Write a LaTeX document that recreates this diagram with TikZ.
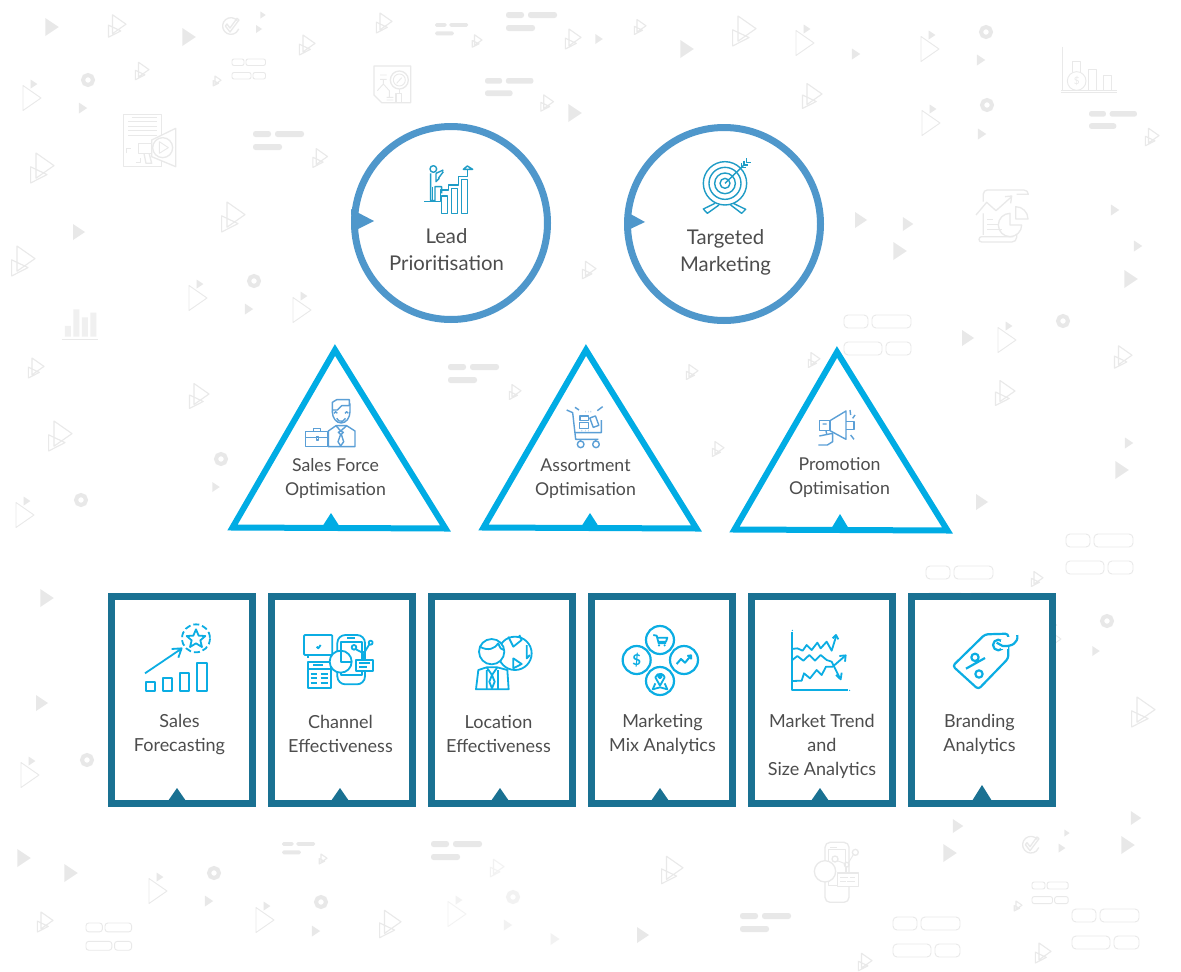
\documentclass[tikz,border=0pt]{standalone}
\usepackage{fontspec}
\setmainfont{Lato}
\definecolor{ringc}{HTML}{4F97CB}
\definecolor{tric}{HTML}{00ACE4}
\definecolor{boxc}{HTML}{1A7192}
\definecolor{txtc}{HTML}{4D4D4D}
\definecolor{bgf}{HTML}{E8E8E8}
\definecolor{bgl}{HTML}{E9E9E9}
\definecolor{bgp}{HTML}{F0F0F0}
\definecolor{ica}{HTML}{1F9CC6}
\definecolor{icb}{HTML}{5B9FD6}
\definecolor{icc}{HTML}{0BADE3}
\tikzset{
  ringshape/.style={circle,draw=ringc,line width=7pt,fill=white,minimum size=193pt,inner sep=0pt},
  tribody/.style={draw=tric,line width=6pt,fill=white,miter limit=10},
  boxshape/.style={rectangle,draw=boxc,line width=7pt,fill=white,minimum width=141pt,minimum height=207pt,inner sep=0pt},
  lbl/.style={text=txtc,align=center,font=\fontsize{18}{24}\selectfont,inner sep=0pt},
  lblbig/.style={text=txtc,align=center,font=\fontsize{20.3}{27}\selectfont,inner sep=0pt},
  lblnarrow/.style={text=txtc,align=center,font=\fontsize{17.7}{24}\selectfont,inner sep=0pt},
  bgline/.style={draw=bgl,line width=.9pt,line join=round},
  bgthick/.style={draw=bgl,line width=1.3pt,line join=round},
  icona/.style={draw=ica,line width=1.4pt,line join=round},
  iconb/.style={draw=icb,line width=1.4pt,line join=round},
  iconc/.style={draw=icc,line width=1.8pt,line join=round},
  iconcf/.style={draw=icc,line width=1.8pt,line join=round,fill=white},
  zA/.style={shift={(340,110)},scale=1/3},
  zT/.style={shift={(300,395)},scale=1/3},
  zC/.style={shift={(560,400)},scale=1/3},
  zM/.style={shift={(810,400)},scale=1/3},
  zL/.style={shift={(100,590)},scale=1/3},
  zR/.style={shift={(580,590)},scale=1/3},
}
\newcommand{\bgst}[3]{\fill[bgf] ({#1-.75*#3},{#2-#3}) -- ({#1+.75*#3},#2) -- ({#1-.75*#3},{#2+#3}) -- cycle;}
\newcommand{\bglogo}[3]{\begin{scope}[shift={(#1,#2)},scale=#3]
  \draw[bgl,line width=1.1pt,line join=round] (-.5,-1.25) -- (1,-.2) -- (-.5,.85) -- cycle (-.95,-.1) -- (.42,.55) -- (-.95,1.25) -- cycle;
  \end{scope}}
\newcommand{\bgot}[2]{\begin{scope}[shift={(#1,#2)}]
  \draw[bgline] (-9,-12.5) -- (9,0) -- (-9,12.5) -- cycle;
  \end{scope}\bgst{#1+2}{#2-14}{4.5}}
\newcommand{\bgring}[2]{\draw[bgf,line width=4pt] (#1,#2) circle (5);}
\newcommand{\bgbars}[3]{\begin{scope}[shift={(#1,#2)},scale=#3]
  \fill[bgf,rounded corners=#3*2.5pt] (0,0) rectangle (18,6) (22,0) rectangle (51,6) (0,13) rectangle (29,19);
  \end{scope}}
\newcommand{\bgpills}[3]{\begin{scope}[shift={(#1,#2)},scale=#3]
  \draw[bgl,line width=.9pt,rounded corners=#3*4pt] (0,0) rectangle (24,13) (28,0) rectangle (67,13) (0,27) rectangle (38,40) (42,27) rectangle (67,40);
  \end{scope}}
\begin{document}
\begin{tikzpicture}[x=1pt,y=-1pt]
\useasboundingbox (0,0) rectangle (1181,972);
\fill[white] (0,0) rectangle (1181,972);
% ---------- background motifs ----------
\bgst{52}{27}{9}\bgst{189}{37}{9}\bgst{263}{15}{3.5}\bgst{259}{29}{4}\bgst{83}{108}{5.5}\bgst{79}{232}{8}\bgst{249}{309}{5.5}
\bgst{599}{39}{5}\bgst{687}{49}{9}\bgst{575}{113}{9}\bgst{856}{54}{5.5}\bgst{981}{60}{5.5}\bgst{982}{134}{5.5}\bgst{861}{220}{8}\bgst{908}{224}{7}\bgst{900}{251}{9}\bgst{1115}{210}{5.5}\bgst{1138}{246}{5.5}\bgst{1131}{279}{9}\bgst{968}{338}{8}
\bgst{1129}{443}{5.5}\bgst{1122}{470}{9}\bgst{982}{502}{8}\bgst{216}{487}{5}\bgst{47}{598}{9}\bgst{42}{703}{8}
\bgst{958}{826}{7}\bgst{950}{853}{9}\bgst{1136}{818}{7}\bgst{1067}{833}{3.5}\bgst{1062}{848}{4.5}\bgst{1128}{845}{9}
\bgst{24}{858}{9}\bgst{71}{873}{9}\bgst{209}{901}{5.5}\bgst{316}{931}{5.5}\bgst{643}{935}{8}\bgst{1096}{651}{5}
\begin{scope}[opacity=.55]\bgst{508}{925}{5.5}\bgst{555}{939}{6}\bgot{457}{914}\bgring{513}{897}\bglogo{497}{868}{7}\end{scope}
\bgot{32}{98}\bgot{198}{298}\bgot{302}{310}\bgot{805}{43}\bgot{930}{49}\bgot{931}{123}\bgot{1007}{340}\bgot{25}{515}\bgot{30}{775}\bgot{158}{891}\bgot{265}{920}\bgot{1052}{639}
\bglogo{117}{26}{9}\bglogo{307}{45}{8}\bglogo{142}{71}{7}\bglogo{217}{81}{4}\bglogo{42}{168}{12}\bglogo{320}{158}{7.5}\bglogo{233}{217}{12}\bglogo{23}{261}{12}
\bglogo{384}{23}{8}\bglogo{477}{41}{5}\bglogo{573}{39}{8}\bglogo{640}{27}{6}\bglogo{744}{31}{12}\bglogo{547}{103}{6.5}\bglogo{812}{96}{10}\bglogo{1152}{137}{7}
\bglogo{589}{270}{7}\bglogo{515}{392}{6}\bglogo{692}{372}{6}\bglogo{718}{449}{6}\bglogo{814}{360}{6}\bglogo{36}{368}{8}\bglogo{199}{396}{10}\bglogo{60}{436}{12}\bglogo{1123}{357}{9}\bglogo{1005}{393}{10}\bglogo{1037}{579}{6}\bglogo{1143}{712}{12}
\bglogo{865}{962}{7}\bglogo{1018}{906}{4}\bglogo{1043}{953}{8}\bglogo{45}{922}{8}\bglogo{323}{859}{4}\bglogo{390}{924}{11}\bglogo{672}{870}{11}
\bgring{88}{80}\bgring{254}{281}\bgring{986}{32}\bgring{987}{105}\bgring{1063}{321}\bgring{221}{459}\bgring{81}{500}\bgring{1107}{621}\bgring{87}{760}\bgring{214}{873}\bgring{321}{902}
\bgbars{253}{131}{1}\bgbars{506}{12}{1}\bgbars{485}{78}{.95}\bgbars{1089}{111}{.94}\bgbars{448}{364}{1}\bgbars{431}{841}{1}\bgbars{740}{913}{1}\bgbars{282}{842}{.65}\bgbars{435}{23}{.65}
\bgpills{232}{59}{.5}\bgpills{844}{315}{1}\bgpills{893}{917}{1}\bgpills{1072}{909}{1}\bgpills{1032}{882}{.54}\bgpills{86}{923}{.68}\bgpills{1066}{534}{1}\bgpills{926}{566}{1}
% megaphone sheet
\begin{scope}[scale=1/3]
  \draw[bgthick] (455,343) -- (370,343) -- (370,500) -- (485,500) -- (485,343) -- (455,343);
  \draw[bgline] (395,352) -- (470,352) (385,365) -- (470,365) (385,378) -- (470,378) (385,392) -- (470,392) (385,405) -- (470,405);
  \draw[bgthick,fill=white] (455,420) -- (527,385) -- (527,500) -- (455,470) -- cycle;
  \draw[bgthick,fill=white] (488,443) circle (30);
  \draw[bgline] (478,425) -- (505,443) -- (478,460) -- cycle;
  \draw[bgthick,fill=white] (415,430) rectangle (455,460);
  \draw[bgthick] (432,460) -- (438,490) -- (455,490) -- (448,462);
  \draw[bgline] (380,460) -- (380,445) -- (392,445) (408,488) -- (422,488) -- (422,475);
  \fill[bgp] (195,978) rectangle (213,1010) (220,928) rectangle (238,1010) (246,952) rectangle (264,1010) (271,938) rectangle (289,1010);
  \draw[bgline] (185,1018) -- (295,1018);
  % check badge top left
  \draw[bgthick] (712,62) arc (-40:-340:25);
  \draw[bgthick] (676,78) -- (690,96) -- (717,60) -- (711,55) -- (690,84) -- (681,72) -- cycle;
\end{scope}
% map and magnifier
\begin{scope}[shift={(340,0)},scale=1/3]
  \draw[bgthick] (102,198) -- (212,198) -- (212,308) -- (125,308) -- (102,285) -- cycle;
  \draw[bgthick,fill=white] (178,240) circle (27);
  \draw[bgline] (178,240) circle (18);
  \draw[bgline] (170,250) -- (185,233) (120,225) -- (140,225) (120,238) -- (140,238) (130,238) -- (130,250) (112,272) -- (130,252) -- (148,272) -- (148,290) (140,292) -- (160,292) (140,300) -- (160,300);
  \draw[bgthick] (168,280) rectangle (185,307);
  \draw[bgline] (178,267) -- (178,280);
\end{scope}
% scroll and finance chart
\begin{scope}[shift={(840,0)},scale=1/3]
  \draw[bgthick] (430,605) -- (430,582) arc (180:270:12) -- (552,570) arc (270:360:13) -- (530,583);
  \draw[bgthick] (430,640) -- (430,705) (530,690) -- (530,712) arc (0:90:14) -- (425,726) arc (90:270:8) -- (520,710);
  \draw[bgthick] (408,645) -- (440,607) -- (468,632) -- (515,590) (495,590) -- (515,588) -- (512,610);
  \draw[bgthick] (527,620) arc (270:360:37) -- (527,657) -- cycle;
  \draw[bgthick,fill=white] (510,640) arc (270:0:35) -- (510,675) -- cycle;
  \draw[bgline] (442,658) -- (460,658) (442,672) -- (475,672) (442,688) -- (485,688);
  \draw[bgline] (668,140) -- (668,270) (662,278) -- (832,278) (664,270) -- (832,270);
  \draw[bgline] (697,215) -- (697,185) -- (722,185) -- (722,215) (745,270) -- (745,208) -- (770,208) -- (770,270) (790,270) -- (790,225) -- (815,225) -- (815,270);
  \draw[bgline,fill=white] (710,243) circle (28);
  \node[text=bgl,font=\fontsize{10}{10}\selectfont] (bgdollar) at (710,243) {\$};
\end{scope}
% small check badge bottom right
\begin{scope}[shift={(840,800)},scale=1/3]
  \draw[bgthick] (592,118) arc (-40:-340:25);
  \draw[bgthick] (556,134) -- (570,152) -- (597,116) -- (591,111) -- (570,140) -- (561,128) -- cycle;
\end{scope}
% phone motif bottom
\begin{scope}[shift={(825,843)},scale=1/3]
  \draw[bgthick,rounded corners=5pt] (0,-2) rectangle (72,178);
  \draw[bgline] (10,18) rectangle (62,128);
  \draw[bgline] (15,12) -- (35,12);
  \draw[bgthick,fill=white] (0,85) circle (32);
  \draw[bgthick,fill=white] (37,90) rectangle (100,130);
  \draw[bgline] (45,103) -- (70,103) (75,103) -- (90,103) (45,116) -- (62,116) (66,116) -- (90,116);
  \draw[bgthick] (30,48) circle (9) (65,65) circle (7) (91,28) circle (9);
  \draw[bgline] (37,53) -- (60,62) (70,60) -- (85,35) (64,72) -- (64,90);
\end{scope}
% ---------- circles ----------
\node[ringshape] (c1) at (451,223) {};
\node[ringshape] (c2) at (724,224) {};
\fill[ringc] (351,209) -- (374,221) -- (352,232) -- cycle;
\fill[ringc] (625,211) -- (645,222) -- (626,231) -- cycle;
\node[lblbig] (t1) at (446.5,249.5) {Lead\\Prioritisation};
\node[lblbig] (t2) at (725.5,252.5) {Targeted\\Marketing};
% lead icon
\begin{scope}[zA]
  \draw[icona] (305,258) rectangle (322,310) (335,235) rectangle (352,310) (365,208) rectangle (382,310);
  \draw[icona] (252,275) -- (302,275) -- (302,240) -- (325,240) -- (325,225) -- (355,225) -- (355,200) -- (382,200) -- (382,178);
  \draw[icona] (370,178) -- (382,168) -- (398,178) -- cycle;
  \draw[icona] (280,177) circle (10);
  \draw[icona] (272,190) -- (272,272) -- (285,272) -- (285,230) -- (305,230) -- (305,250) (288,190) -- (310,180) (295,205) -- (310,185) (288,190) -- (288,215) -- (298,205);
  \draw[icona] (278,230) -- (278,272);
\end{scope}
% target icon
\begin{scope}[zA]
  \draw[icona] (1155,220) circle (65) (1155,220) circle (48) (1155,220) circle (31) (1155,220) circle (15);
  \draw[icona] (1155,220) -- (1212,165);
  \draw[icona] (1205,160) -- (1205,172) -- (1218,172) (1212,152) -- (1212,165) -- (1225,165) (1220,145) -- (1220,157) -- (1232,157);
  \draw[icona] (1125,280) -- (1090,297) -- (1102,310) -- (1137,285);
  \draw[icona] (1180,280) -- (1217,298) -- (1205,310) -- (1172,285);
\end{scope}
% ---------- triangles ----------
\draw[tribody] (335,350) -- (445.5,528.5) -- (232.5,527.5) -- cycle;
\draw[tribody] (586,350) -- (696.5,528.5) -- (483.5,527.5) -- cycle;
\draw[tribody] (837,352) -- (947.5,530.5) -- (734.5,529.5) -- cycle;
\fill[tric] (331,513) -- (340,527) -- (322,527) -- cycle;
\fill[tric] (590,513) -- (599,527) -- (581,527) -- cycle;
\fill[tric] (840,514) -- (849,529) -- (831,529) -- cycle;
\node[lblnarrow] (s1) at (335.5,478.5) {Sales Force\\Optimisation};
\node[lblnarrow] (s2) at (585.5,478.5) {Assortment\\Optimisation};
\node[lblnarrow] (s3) at (839.5,477.5) {Promotion\\Optimisation};
% salesman
\begin{scope}[zT]
  \draw[iconb] (17,110) rectangle (82,155) (17,128) -- (82,128) (40,110) -- (40,100) -- (62,100) -- (62,110);
  \draw[iconb] (50,125) rectangle (55,135);
  \draw[iconb] (97,52) -- (97,22) -- (110,14) -- (148,14) -- (148,32) -- (125,32) -- (112,45) -- (97,45);
  \draw[iconb] (97,50) arc (180:0:26.5 and 34) -- (150,25);
  \draw[iconb] (102,55) arc (180:360:5) (135,55) arc (180:360:5) (110,70) arc (160:20:14);
  \draw[iconb] (85,155) -- (85,108) -- (108,92) -- (140,92) -- (165,108) -- (165,155) -- cycle;
  \draw[iconb] (108,92) -- (122,108) -- (140,92) (122,108) -- (115,112) -- (122,118) -- (114,140) -- (122,153) -- (131,140) -- (124,118) -- (130,112) -- (122,108);
\end{scope}
% cart
\begin{scope}[zC]
  \draw[iconb] (20,30) -- (38,38) -- (47,118) -- (115,118) (45,98) -- (124,98) -- (124,60);
  \draw[iconb] (62,133) circle (10) (108,133) circle (10) (60,118) -- (62,123) (105,118) -- (108,123);
  \draw[iconb] (60,48) rectangle (85,62) (58,68) rectangle (85,85);
  \draw[iconb,rotate around={20:(103,65)}] (94,50) rectangle (112,80);
  \draw[iconb] (45,22) -- (57,30) (128,20) -- (112,32) (75,35) -- (76,35) (85,35) -- (86,35) (92,35) -- (93,35) (65,92) -- (66,92) (75,92) -- (76,92) (85,92) -- (86,92);
\end{scope}
% megaphone
\begin{scope}[zM]
  \draw[iconb] (60,62) -- (108,33) -- (108,118) -- (60,92) -- cycle;
  \draw[iconb] (28,62) rectangle (60,92);
  \draw[iconb] (108,65) -- (132,65) -- (132,88) -- (108,88);
  \draw[iconb] (38,72) -- (50,72) (28,108) -- (68,100) -- (68,125) -- (52,135) -- (25,135);
  \draw[iconb] (48,92) -- (50,102) (120,30) -- (122,45) (122,105) -- (132,118) (135,45) -- (128,55);
\end{scope}
% ---------- boxes ----------
\node[boxshape] (b1) at (182,700) {};
\node[boxshape] (b2) at (342,700) {};
\node[boxshape] (b3) at (502,700) {};
\node[boxshape] (b4) at (662,700) {};
\node[boxshape] (b5) at (822,700) {};
\node[boxshape] (b6) at (982,700) {};
\fill[boxc] (177,788) -- (186,801) -- (168,801) -- cycle;
\fill[boxc] (340,788) -- (349,801) -- (331,801) -- cycle;
\fill[boxc] (500,788) -- (509,801) -- (491,801) -- cycle;
\fill[boxc] (660,788) -- (669,801) -- (651,801) -- cycle;
\fill[boxc] (820,788) -- (829,801) -- (811,801) -- cycle;
\fill[boxc] (982,785) -- (992,801) -- (972,801) -- cycle;
\node[lbl] (l1) at (179.5,734.5) {Sales\\Forecasting};
\node[lbl] (l2) at (340.5,734) {Channel\\Effectiveness};
\node[lbl] (l3) at (498.5,734) {Location\\Effectiveness};
\node[lbl] (l4) at (662.5,734) {Marketing\\Mix Analytics};
\node[lbl] (l5) at (822,746) {Market Trend\\and\\Size Analytics};
\node[lbl] (l6) at (979.5,734) {Branding\\Analytics};
% sales forecasting icon
\begin{scope}[zL]
  \draw[iconc] (137,275) rectangle (165,302) (188,265) rectangle (216,302) (240,250) rectangle (268,302) (290,218) rectangle (320,302);
  \draw[iconc] (135,250) -- (243,177) (215,177) -- (245,175) -- (235,203);
  \draw[iconc,dash pattern=on 6pt off 3pt] (288,145) circle (42);
  \draw[iconc] (288,118) -- (296,137) -- (316,138) -- (301,151) -- (306,171) -- (288,160) -- (270,171) -- (275,151) -- (260,138) -- (280,137) -- cycle;
\end{scope}
% channel icon
\begin{scope}[zL]
  \draw[iconc,rounded corners=1pt] (612,135) rectangle (697,195);
  \draw[iconc] (625,195) -- (625,205);
  \draw[iconc] (650,170) -- (655,175) -- (662,165);
  \draw[iconc] (623,215) rectangle (693,295) (623,238) -- (693,238);
  \draw[iconc] (640,225) -- (670,225) (632,252) -- (652,252) (662,252) -- (685,252) (632,265) -- (652,265) (662,265) -- (685,265) (632,278) -- (652,278) (662,278) -- (685,278);
  \draw[iconcf,rounded corners=8pt] (712,135) rectangle (795,283);
  \draw[iconc] (722,155) rectangle (785,255) (742,145) -- (765,145);
  \fill[white] (722,180) rectangle (760,250);
  \draw[iconcf] (722,215) circle (33);
  \draw[iconc] (722,182) -- (722,215) -- (755,215);
  \draw[iconcf] (767,210) rectangle (820,243);
  \draw[iconc] (777,220) -- (810,220) (777,232) -- (800,232);
  \draw[iconcf] (812,158) circle (6) (762,172) circle (7) (790,190) circle (5);
  \draw[iconc] (768,178) -- (785,187) (794,186) -- (808,163) (790,195) -- (790,208);
\end{scope}
% location icon
\begin{scope}[zL]
  \draw[iconc] (1245,190) circle (50);
  \draw[iconc] (1225,140) -- (1240,170) -- (1265,150) -- (1258,135) (1280,165) -- (1280,205) -- (1290,195) (1240,205) -- (1265,222) -- (1240,235) -- cycle;
  \draw[iconcf] (1175,185) circle (38);
  \draw[iconc] (1140,170) .. controls (1165,185) and (1185,175) .. (1195,160) .. controls (1200,175) and (1205,180) .. (1212,180);
  \draw[iconcf] (1128,298) -- (1135,240) -- (1160,232) -- (1192,232) -- (1222,240) -- (1226,298) -- cycle;
  \draw[iconc] (1160,232) -- (1176,255) -- (1192,232) (1176,255) -- (1168,275) -- (1176,295) -- (1184,275) -- cycle (1160,240) -- (1160,298) (1194,240) -- (1194,298);
\end{scope}
% marketing mix icon
\begin{scope}[zR]
  \draw[iconc,line width=2.2pt] (240,150) circle (42) (170,210) circle (42) (312,210) circle (42) (240,273) circle (42);
  \node[text=icc,font=\bfseries\fontsize{15}{15}\selectfont] (dollar) at (170,210) {\$};
  \draw[iconc] (220,135) -- (230,137) -- (236,160) -- (258,160) (232,143) -- (262,143) -- (258,155) -- (236,155);
  \fill[icc] (237,166) circle (3.5) (254,166) circle (3.5);
  \draw[iconc,line width=2pt] (290,222) -- (303,207) -- (315,218) -- (332,198) (322,198) -- (333,196) -- (333,208);
  \draw[iconc] (240,287) -- (226,262) arc (195:345:14.5) -- cycle (240,260) circle (5);
  \draw[iconc] (226,280) -- (218,298) -- (240,292) -- (262,298) -- (254,280);
\end{scope}
% market trend icon
\begin{scope}[zR]
  \draw[iconc] (637,125) -- (637,300) -- (805,300);
  \fill[icc] (637,121) circle (2) (809,301) circle (2);
  \draw[iconc] (635,177) -- (652,175) -- (668,182) -- (680,165) -- (695,180) -- (712,158) -- (722,175) -- (740,155) -- (755,182) -- (768,140);
  \draw[iconc] (758,145) -- (768,135) -- (775,148);
  \draw[iconc] (637,210) -- (652,198) -- (670,212) -- (688,195) -- (705,212) -- (722,195) -- (740,210) -- (755,215) -- (780,265);
  \draw[iconc] (768,255) -- (782,268) -- (785,248);
  \draw[iconc] (637,273) -- (665,272) -- (672,250) -- (690,265) -- (710,240) -- (725,255) -- (738,230) -- (758,230) -- (795,198);
  \draw[iconc] (778,198) -- (797,196) -- (795,215);
\end{scope}
% branding tag icon
\begin{scope}[zR]
  \draw[iconc,line width=2.2pt,rounded corners=3pt] (1118,228) -- (1215,133) -- (1285,131) -- (1285,205) -- (1195,298) -- cycle;
  \draw[draw=white,line width=3pt] (1285,142) -- (1285,165);
  \draw[iconcf,line width=2.2pt] (1255,165) circle (16);
  \fill[white] (1262,150) rectangle (1285,178);
  \draw[iconc,line width=2.2pt] (1250,158) -- (1268,168) .. controls (1295,170) and (1315,160) .. (1312,135);
  \draw[iconc,line width=2.2pt] (1185,202) circle (11) (1197,252) circle (11) (1158,236) -- (1215,204);
\end{scope}
\end{tikzpicture}
\end{document}
